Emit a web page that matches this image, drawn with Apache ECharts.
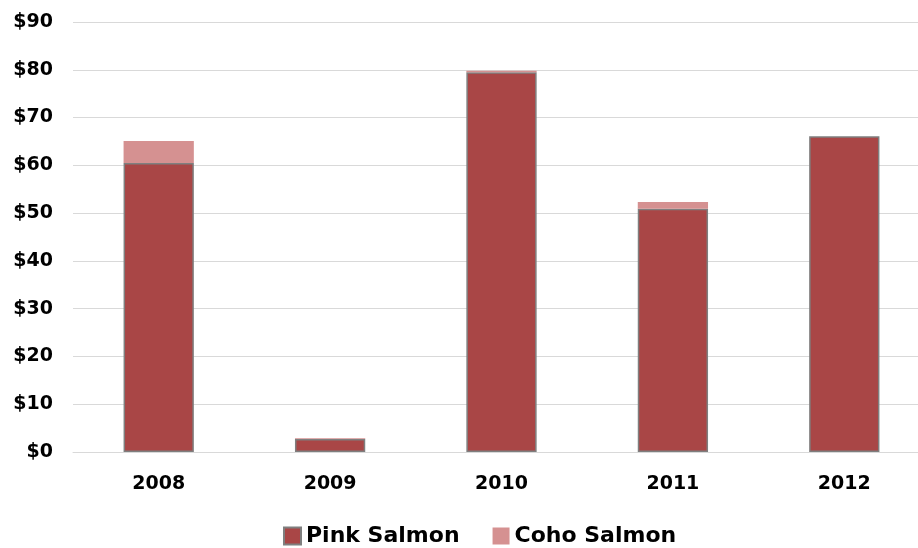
<!DOCTYPE html>
<html>
<head>
<meta charset="utf-8">
<script src="https://cdn.jsdelivr.net/npm/echarts@6/dist/echarts.min.js"></script>
<style>
  html, body { margin: 0; padding: 0; background: #fff; }
  #chart { width: 918px; height: 548px; }
</style>
</head>
<body>
<div id="chart"></div>
<script>
var years = ['2008', '2009', '2010', '2011', '2012'];
var pinkSalmon = [60.5, 2.7, 79.5, 50.9, 66.1];
var cohoSalmon = [4.6, 0.2, 0.3, 1.4, 0];
var yTicks = [0, 10, 20, 30, 40, 50, 60, 70, 80, 90];

var font = '"DejaVu Sans", sans-serif';

var chart = echarts.init(document.getElementById('chart'));
chart.setOption({
  animation: false,
  textStyle: { fontFamily: font },
  legend: {
    bottom: -4,
    left: 278,
    icon: 'rect',
    itemWidth: 17,
    itemHeight: 17,
    itemGap: 33,
    textStyle: { fontSize: 22, fontWeight: 'bold', color: '#000', fontFamily: font },
    data: ['Pink Salmon', 'Coho Salmon']
  },
  grid: { left: 73, width: 857, top: 22, height: 430, outerBoundsMode: 'none', containLabel: false },
  xAxis: {
    type: 'category',
    data: years,
    axisTick: { show: false },
    axisLine: { lineStyle: { color: '#d9d9d9', width: 1 } },
    axisLabel: { fontSize: 19, fontWeight: 'bold', color: '#000', margin: 23 }
  },
  yAxis: {
    type: 'value',
    min: yTicks[0],
    max: yTicks[yTicks.length - 1],
    interval: 10,
    axisLine: { show: false },
    axisTick: { show: false },
    splitLine: { lineStyle: { color: '#d9d9d9', width: 1 } },
    axisLabel: {
      fontSize: 19, fontWeight: 'bold', color: '#000', margin: 20,
      formatter: function (v) { return '$' + v; }
    }
  },
  series: [
    {
      name: 'Pink Salmon',
      type: 'bar',
      stack: 'total',
      barWidth: '41%',
      data: pinkSalmon,
      itemStyle: { color: '#a94646', borderColor: '#7f7f7f', borderWidth: 1.5 }
    },
    {
      name: 'Coho Salmon',
      type: 'bar',
      stack: 'total',
      data: cohoSalmon,
      itemStyle: { color: '#d59191' }
    }
  ]
});
</script>
</body>
</html>
